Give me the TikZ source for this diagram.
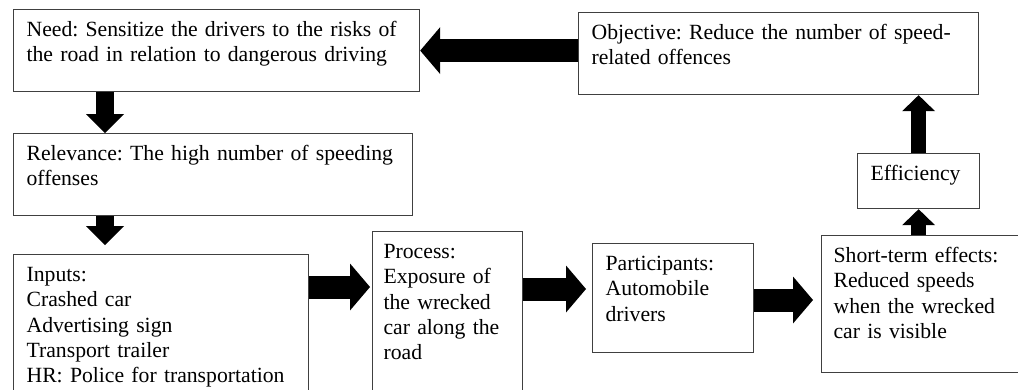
\documentclass[tikz,border=0pt]{standalone}
\usepackage{fontspec}
\setmainfont{Liberation Serif}
\usetikzlibrary{arrows.meta}

\tikzset{
  box/.style={draw=black!75, line width=1.2pt, anchor=north west, align=left,
    font=\fontsize{21.7}{25.3}\selectfont\frenchspacing, inner xsep=13pt, inner ysep=0pt,
    text height=27pt},
  harrow/.style={draw, line width=23pt, -{Triangle[width=47pt,length=20pt,line width=0pt]}},
  varrow/.style={draw, line width=18pt, -{Triangle[width=38pt,length=19pt,line width=0pt]}},
  uarrow/.style={draw, line width=15pt, -{Triangle[width=33pt,length=16pt,line width=0pt]}}
}

\begin{document}
\begin{tikzpicture}[x=1pt, y=-1pt]
\useasboundingbox (0,0) rectangle (1018,389);
\clip (0,0) rectangle (1018,389);

% boxes
\node[box, text width=380pt, text depth=55pt] (need) at (13,9)
  {Need: Sensitize the drivers to the risks of\\the road in relation to dangerous driving};
\node[box, text width=374pt, text depth=55pt] (obj) at (578,12)
  {Objective: Reduce the number of speed-\\related offences};
\node[box, text width=373pt, text depth=55pt] (rel) at (13,133)
  {Relevance: The high number of speeding\\offenses};
\node[box, text width=96pt, text depth=28pt] (eff) at (857,153) {Efficiency};
\node[box, text width=269pt, text depth=150pt] (inp) at (13,254)
  {Inputs:\\Crashed car\\Advertising sign\\Transport trailer\\HR: Police for transportation};
\node[box, inner xsep=11pt, text width=128pt, text depth=170pt] (proc) at (372,231)
  {Process:\\Exposure of\\the wrecked\\car along the\\road};
\node[box, text width=135pt, text depth=82pt] (part) at (592,243)
  {Participants:\\Automobile\\drivers};
\node[box, inner xsep=12pt, text width=196pt, text depth=110pt] (short) at (821,235)
  {Short-term effects:\\Reduced speeds\\when the wrecked\\car is visible};

% arrow tips
\coordinate (t2) at (105,133);
\coordinate (t3) at (105,245);
\coordinate (t4) at (370,287);
\coordinate (t5) at (586,289);
\coordinate (t6) at (813,300);

% connectors
\draw[harrow] (obj.west |- need.east) -- (need.east);
\draw[varrow] (need.south -| t2) -- (t2);
\draw[varrow] (rel.south -| t3) -- (t3);
\draw[harrow] (inp.east |- t4) -- (t4);
\draw[harrow] (proc.east |- t5) -- (t5);
\draw[harrow] (part.east |- t6) -- (t6);
\draw[uarrow] (eff.south |- short.north) -- (eff.south);
\draw[uarrow] (eff.north) -- (eff.north |- obj.south);
\end{tikzpicture}
\end{document}
